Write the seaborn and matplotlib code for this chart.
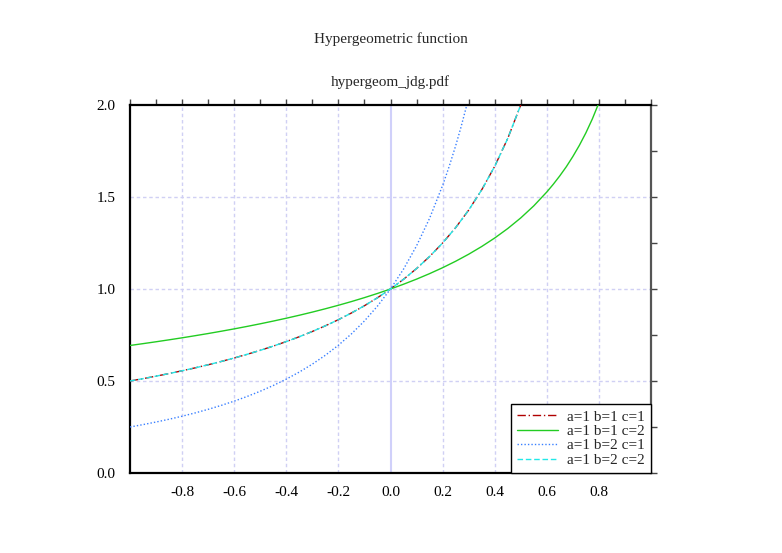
import matplotlib
matplotlib.use("Agg")
import matplotlib.pyplot as plt
import seaborn as sns
import pandas as pd
from matplotlib.ticker import MultipleLocator, FixedLocator, FormatStrFormatter

# ---- data ----
x_a = [-1.00, -0.95, -0.90, -0.85, -0.80, -0.75, -0.70, -0.65, -0.60, -0.55, -0.50,
       -0.45, -0.40, -0.35, -0.30, -0.25, -0.20, -0.15, -0.10, -0.05, 0.00,
       0.05, 0.10, 0.15, 0.20, 0.25, 0.30, 0.35, 0.40, 0.45, 0.50]
y_111 = [0.5, 0.5128, 0.5263, 0.5405, 0.5556, 0.5714, 0.5882, 0.6061, 0.625, 0.6452, 0.6667,
         0.6897, 0.7143, 0.7407, 0.7692, 0.8, 0.8333, 0.8696, 0.9091, 0.9524, 1.0,
         1.0526, 1.1111, 1.1765, 1.25, 1.3333, 1.4286, 1.5385, 1.6667, 1.8182, 2.0]
y_122 = [0.5, 0.5128, 0.5263, 0.5405, 0.5556, 0.5714, 0.5882, 0.6061, 0.625, 0.6452, 0.6667,
         0.6897, 0.7143, 0.7407, 0.7692, 0.8, 0.8333, 0.8696, 0.9091, 0.9524, 1.0,
         1.0526, 1.1111, 1.1765, 1.25, 1.3333, 1.4286, 1.5385, 1.6667, 1.8182, 2.0]

x_b = [-1.00, -0.95, -0.90, -0.85, -0.80, -0.75, -0.70, -0.65, -0.60, -0.55, -0.50,
       -0.45, -0.40, -0.35, -0.30, -0.25, -0.20, -0.15, -0.10, -0.05, 0.00,
       0.05, 0.10, 0.15, 0.20, 0.25, 0.30, 0.35, 0.40, 0.45, 0.50,
       0.55, 0.60, 0.625, 0.65, 0.675, 0.70, 0.725, 0.75, 0.775, 0.80]
y_112 = [0.6931, 0.7030, 0.7132, 0.7238, 0.7347, 0.7462, 0.7580, 0.7704, 0.7833, 0.7968, 0.8109,
         0.8257, 0.8412, 0.8574, 0.8745, 0.8926, 0.9116, 0.9317, 0.9531, 0.9758, 1.0,
         1.0259, 1.0536, 1.0835, 1.1157, 1.1507, 1.1889, 1.2308, 1.2771, 1.3285, 1.3863,
         1.4518, 1.5272, 1.5694, 1.6151, 1.6647, 1.7200, 1.7807, 1.8484, 1.9248, 2.0118]

x_c = [-1.00, -0.95, -0.90, -0.85, -0.80, -0.75, -0.70, -0.65, -0.60, -0.55, -0.50,
       -0.45, -0.40, -0.35, -0.30, -0.25, -0.20, -0.15, -0.10, -0.05, 0.00,
       0.05, 0.10, 0.15, 0.20, 0.225, 0.25, 0.27, 0.2929]
y_121 = [0.25, 0.2630, 0.2770, 0.2922, 0.3086, 0.3265, 0.3460, 0.3673, 0.3906, 0.4162, 0.4444,
         0.4756, 0.5102, 0.5487, 0.5917, 0.64, 0.6944, 0.7561, 0.8264, 0.9070, 1.0,
         1.1080, 1.2346, 1.3841, 1.5625, 1.6649, 1.7778, 1.8765, 2.0]

labels = ["a=1 b=1 c=1", "a=1 b=1 c=2", "a=1 b=2 c=1", "a=1 b=2 c=2"]
x_major = [-0.8, -0.6, -0.4, -0.2, 0.0, 0.2, 0.4, 0.6, 0.8]
y_major = [0.0, 0.5, 1.0, 1.5, 2.0]

# ---- style ----
sns.set_style("white")
plt.rcParams["font.family"] = ["Liberation Serif", "DejaVu Serif"]
plt.rcParams["axes.unicode_minus"] = False

fig = plt.figure(figsize=(7.82, 5.53), dpi=100)
ax = fig.add_axes([130 / 782, 80 / 553, (651 - 130) / 782, (473 - 105) / 553])

grid_col = "#d0d0f4"
for xv in x_major:
    if xv == 0.0:
        continue
    ax.axvline(xv, color=grid_col, lw=1.0, ls=(0, (2.5, 2)), zorder=0)
for yv in y_major[1:-1]:
    ax.axhline(yv, color=grid_col, lw=1.0, ls=(0, (2.5, 2)), zorder=0)
ax.axvline(0.0, color="#d0d0fa", lw=1.5, zorder=0)

specs = [
    (x_a, y_111, labels[0], "#b00000", (0, (6, 2, 1, 2))),
    (x_b, y_112, labels[1], "#22cc22", "-"),
    (x_c, y_121, labels[2], "#3a80ff", (0, (1, 1.5))),
    (x_a, y_122, labels[3], "#22e8e8", (0, (4, 2))),
]
for xs, ys, lab, col, ls in specs:
    df = pd.DataFrame({"x": xs, "y": ys})
    sns.lineplot(data=df, x="x", y="y", ax=ax, color=col, lw=1.0,
                 linestyle=ls, label=lab, sort=False, estimator=None, zorder=3)

ax.set_xlim(-1.0, 1.0)
ax.set_ylim(0.0, 2.0)
ax.set_xlabel("")
ax.set_ylabel("")

ax.xaxis.set_major_locator(FixedLocator(x_major))
ax.xaxis.set_minor_locator(MultipleLocator(0.1))
ax.yaxis.set_major_locator(FixedLocator(y_major))
ax.yaxis.set_minor_locator(MultipleLocator(0.25))
ax.xaxis.set_major_formatter(FormatStrFormatter("%.1f"))
ax.yaxis.set_major_formatter(FormatStrFormatter("%.1f"))
ax.tick_params(which="both", direction="out", top=True, right=True,
               labeltop=False, labelright=False, length=4.5, width=1.0,
               color="#444444", labelsize=11, labelcolor="black")
ax.tick_params(axis="x", which="major", pad=5)
ax.tick_params(axis="y", which="major", pad=6)

for s in ["left", "top", "bottom"]:
    ax.spines[s].set_color("black")
    ax.spines[s].set_linewidth(1.6)
ax.spines["right"].set_color("#555555")
ax.spines["right"].set_linewidth(1.6)

leg = ax.legend(loc="lower right", fontsize=11, frameon=True, fancybox=False,
                borderaxespad=0.0, handlelength=2.7, labelspacing=0.05,
                borderpad=0.4, handletextpad=0.6)
leg.get_frame().set_edgecolor("black")
leg.get_frame().set_linewidth(1.0)
leg.get_frame().set_alpha(1.0)

ax.set_title("hypergeom_jdg.pdf", fontsize=11, pad=14)
fig.suptitle("Hypergeometric function", fontsize=11, y=1 - 39 / 553, va="center")

fig.savefig("out.png", dpi=100)
